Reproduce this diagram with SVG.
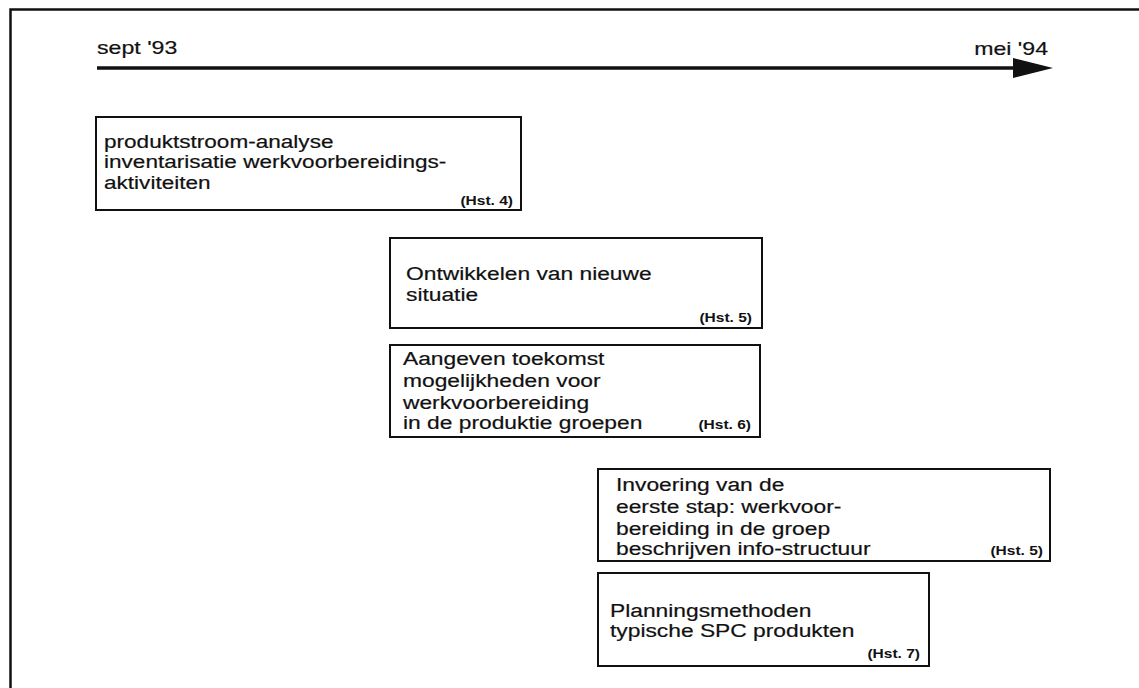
<svg xmlns="http://www.w3.org/2000/svg" width="1139" height="688" viewBox="0 0 1139 688">
  <style>
    .frame { fill: none; stroke: #111; stroke-width: 2.5; }
    .box { fill: #fff; stroke: #111; stroke-width: 2; }
    .t { font-family: "Liberation Sans", Arial, sans-serif; font-size: 18.5px; fill: #111; stroke: #111; stroke-width: 0.2; }
    .ref { font-family: "Liberation Sans", Arial, sans-serif; font-size: 13.5px; font-weight: bold; fill: #111; text-anchor: end; }
    .axis { stroke: #111; stroke-width: 3.5; fill: none; }
  </style>
  <defs>
    <marker id="head" viewBox="0 0 40 20" refX="0" refY="10" markerWidth="40" markerHeight="20" markerUnits="userSpaceOnUse" orient="auto">
      <path d="M0,0 L40,10 L0,20 Z" fill="#111"/>
    </marker>
  </defs>

  <rect width="1139" height="688" fill="#fff"/>

  <!-- page border (open towards the right and bottom) -->
  <polyline class="frame" points="10.5,688 10.5,9.5 1139,9.5"/>

  <!-- time axis -->
  <g id="timeline">
    <text class="t" transform="translate(97 54) scale(1.25 1)">sept '93</text>
    <text class="t" transform="translate(1048 55) scale(1.25 1)" text-anchor="end">mei '94</text>
    <line class="axis" x1="97" y1="68" x2="1013" y2="68" marker-end="url(#head)"/>
  </g>

  <g id="connectors"></g>

  <g id="node-analyse">
    <rect class="box" x="96" y="117" width="425" height="93"/>
    <text class="t" transform="translate(104 148) scale(1.22 1)">
      <tspan x="0" y="0">produktstroom-analyse</tspan>
      <tspan x="0" y="20">inventarisatie werkvoorbereidings-</tspan>
      <tspan x="0" y="41">aktiviteiten</tspan>
    </text>
    <text class="ref" transform="translate(513 205) scale(1.15 1)">(Hst. 4)</text>
  </g>

  <g id="node-ontwikkelen">
    <rect class="box" x="390" y="238" width="372" height="90"/>
    <text class="t" transform="translate(406 280) scale(1.2 1)" style="font-size:19px">
      <tspan x="0" y="0">Ontwikkelen van nieuwe</tspan>
      <tspan x="0" y="21">situatie</tspan>
    </text>
    <text class="ref" transform="translate(752 322) scale(1.15 1)">(Hst. 5)</text>
  </g>

  <g id="node-toekomst">
    <rect class="box" x="390" y="345" width="370" height="92"/>
    <text class="t" transform="translate(403 365) scale(1.2 1)" style="font-size:19px">
      <tspan x="0" y="0">Aangeven toekomst</tspan>
      <tspan x="0" y="22">mogelijkheden voor</tspan>
      <tspan x="0" y="44">werkvoorbereiding</tspan>
      <tspan x="0" y="64">in de produktie groepen</tspan>
    </text>
    <text class="ref" transform="translate(751 429) scale(1.15 1)">(Hst. 6)</text>
  </g>

  <g id="node-invoering">
    <rect class="box" x="598" y="469" width="452" height="92"/>
    <text class="t" transform="translate(616 491) scale(1.2 1)" style="font-size:19px">
      <tspan x="0" y="0">Invoering van de</tspan>
      <tspan x="0" y="22">eerste stap: werkvoor-</tspan>
      <tspan x="0" y="44">bereiding in de groep</tspan>
      <tspan x="0" y="64">beschrijven info-structuur</tspan>
    </text>
    <text class="ref" transform="translate(1043 555) scale(1.15 1)">(Hst. 5)</text>
  </g>

  <g id="node-planning">
    <rect class="box" x="598" y="573" width="331" height="93"/>
    <text class="t" transform="translate(610 617) scale(1.2 1)" style="font-size:19px">
      <tspan x="0" y="0">Planningsmethoden</tspan>
      <tspan x="0" y="20">typische SPC produkten</tspan>
    </text>
    <text class="ref" transform="translate(920 658) scale(1.15 1)">(Hst. 7)</text>
  </g>
</svg>
